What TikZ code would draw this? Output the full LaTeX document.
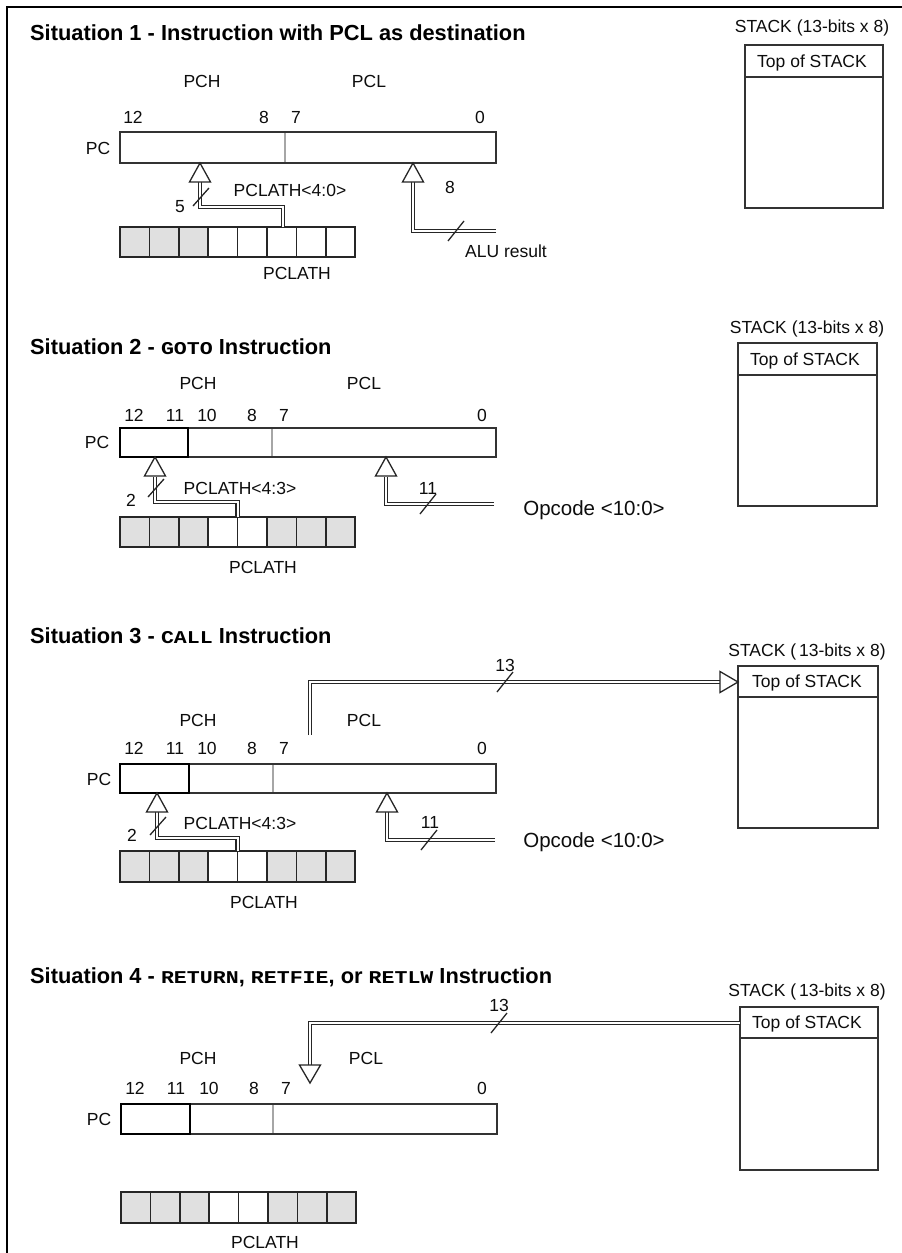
\documentclass[tikz,border=0pt]{standalone}
\usepackage{fontspec}
\usepackage{graphicx}
\setmainfont{Liberation Sans}
\newfontfamily\monofnt{Liberation Mono}
\begin{document}
\begin{tikzpicture}[x=1pt,y=-1pt,
  lbl/.style={font=\fontsize{17.5}{20}\selectfont, inner sep=0pt, text=black!95},
  ttl/.style={font=\fontsize{21.8}{26}\selectfont\bfseries, inner sep=0pt, anchor=west, text=black},
  opc/.style={font=\fontsize{20.5}{24}\selectfont, inner sep=0pt, text=black!95},
  regbox/.style={draw=black!80, line width=1.4pt},
  subbox/.style={draw=black, line width=1.9pt},
  divider/.style={draw=black!35, line width=1.2pt},
  cell/.style={draw=black!85, line width=1.5pt},
  graycell/.style={cell, fill=black!12},
  bus/.style={draw=black!85, double=white, double distance=2pt, line width=1.4pt},
  slash/.style={draw=black!85, line width=1.3pt},
  head/.style={draw=black!85, fill=white, line width=1.3pt, line join=miter},
  stackbox/.style={draw=black!80, line width=1.5pt}]
\useasboundingbox (0,0) rectangle (902,1253);
\fill[white] (0,0) rectangle (902,1253);
% frame
\draw[line width=2pt] (7,1253) -- (7,7) -- (902,7);
\newcommand\mtt[1]{\scalebox{1.2}[1]{\monofnt\fontsize{18}{20}\selectfont #1}}

% ================= Situation 1 =================
\node[ttl] (t1) at (30,33) {Situation 1 - Instruction with PCL as destination};
\node[lbl] (s1stk) at (812,28) {STACK (13-bits x 8)};
\draw[stackbox] (745,45) rectangle (883,208);
\draw[stackbox] (745,77) -- (883,77);
\node[lbl] (s1tos) at (812,63) {Top of STACK};
\node[lbl] (s1pch) at (202,81) {PCH};
\node[lbl] (s1pcl) at (369,81) {PCL};
\node[lbl] (s1b12) at (133,117) {12};
\node[lbl] (s1b8) at (264,117) {8};
\node[lbl] (s1b7) at (296,117) {7};
\node[lbl] (s1b0) at (480,117) {0};
\node[lbl] (s1pc) at (98,148) {PC};
\draw[regbox] (120,132) rectangle (496,163);
\draw[divider] (285,133) -- (285,162);
\foreach \i/\f in {0/graycell,1/graycell,2/graycell,3/cell,4/cell,5/cell,6/cell,7/cell}
  \draw[\f] ({120+29.4*\i},227) rectangle ++(29.4,30);
\node[lbl] (s1lath) at (297,273) {PCLATH};
\coordinate (s1a) at (283,227);
\coordinate (s1ab) at (200,182);
\draw[bus] (s1a) -- (283,207) -- (200,207) -- (s1ab);
\draw[head] (200,163) -- ++(-10.5,19) -- ++(21,0) -- cycle;
\draw[slash] (193,206) -- (209,188);
\node[lbl] (s1n5) at (180,207) {5};
\node[lbl] (s1l40) at (290,190) {PCLATH<4:0>};
\coordinate (s1b) at (496,231);
\coordinate (s1bb) at (413,182);
\draw[bus] (s1b) -- (413,231) -- (s1bb);
\draw[head] (413,163) -- ++(-10.5,19) -- ++(21,0) -- cycle;
\draw[slash] (448,241) -- (464,221);
\node[lbl] (s1n8) at (450,187) {8};
\node[lbl] (s1alu) at (506,251) {ALU result};

% ================= Situation 2 =================
\node[ttl] (t2) at (30,347) {Situation 2 - \mtt{GOTO} Instruction};
\node[lbl] (s2stk) at (807,329) {STACK (13-bits x 8)};
\draw[stackbox] (738,343) rectangle (877,506);
\draw[stackbox] (738,375) -- (877,375);
\node[lbl] (s2tos) at (805,361) {Top of STACK};
\node[lbl] (s2pch) at (198,383) {PCH};
\node[lbl] (s2pcl) at (364,383) {PCL};
\node[lbl] (s2b12) at (134,415) {12};
\node[lbl] (s2b11) at (175,415) {11};
\node[lbl] (s2b10) at (207,415) {10};
\node[lbl] (s2b8) at (252,415) {8};
\node[lbl] (s2b7) at (284,415) {7};
\node[lbl] (s2b0) at (482,415) {0};
\node[lbl] (s2pc) at (97,442) {PC};
\draw[regbox] (120,428) rectangle (496,457);
\draw[divider] (272,429) -- (272,456);
\draw[subbox] (120,428) rectangle (188,457);
\foreach \i/\f in {0/graycell,1/graycell,2/graycell,3/cell,4/cell,5/graycell,6/graycell,7/graycell}
  \draw[\f] ({120+29.4*\i},517) rectangle ++(29.4,30);
\node[lbl] (s2lath) at (263,567) {PCLATH};
\coordinate (s2a) at (237.6,517);
\coordinate (s2ab) at (155,477);
\draw[bus] (s2a) -- (237.6,502) -- (155,502) -- (s2ab);
\draw[head] (155,457) -- ++(-10.5,19) -- ++(21,0) -- cycle;
\draw[slash] (148,497) -- (164,479);
\node[lbl] (s2n2) at (131,500) {2};
\node[lbl] (s2l43) at (240,488) {PCLATH<4:3>};
\coordinate (s2b) at (494,504);
\coordinate (s2bb) at (386,477);
\draw[bus] (s2b) -- (386,504) -- (s2bb);
\draw[head] (386,457) -- ++(-10.5,19) -- ++(21,0) -- cycle;
\draw[slash] (420,514) -- (436,494);
\node[lbl] (s2n11) at (428,488) {11};
\node[opc] (s2opc) at (594,510) {Opcode <10:0>};

% ================= Situation 3 =================
\node[ttl] (t3) at (30,636) {Situation 3 - \mtt{CALL} Instruction};
\node[lbl] (s3stk) at (807,652) {STACK (\,13-bits x 8)};
\draw[stackbox] (738,666) rectangle (878,828);
\draw[stackbox] (738,697) -- (878,697);
\node[lbl] (s3tos) at (807,683) {Top of STACK};
\node[lbl] (s3pch) at (198,720) {PCH};
\node[lbl] (s3pcl) at (364,720) {PCL};
\node[lbl] (s3b12) at (134,748) {12};
\node[lbl] (s3b11) at (175,748) {11};
\node[lbl] (s3b10) at (207,748) {10};
\node[lbl] (s3b8) at (252,748) {8};
\node[lbl] (s3b7) at (284,748) {7};
\node[lbl] (s3b0) at (482,748) {0};
\node[lbl] (s3pc) at (99,779) {PC};
\draw[regbox] (120,764) rectangle (496,793);
\draw[divider] (273,765) -- (273,792);
\draw[subbox] (120,764) rectangle (189,793);
\foreach \i/\f in {0/graycell,1/graycell,2/graycell,3/cell,4/cell,5/graycell,6/graycell,7/graycell}
  \draw[\f] ({120+29.4*\i},851) rectangle ++(29.4,31);
\node[lbl] (s3lath) at (264,902) {PCLATH};
\coordinate (s3a) at (237.6,851);
\coordinate (s3ab) at (157,812);
\draw[bus] (s3a) -- (237.6,838) -- (157,838) -- (s3ab);
\draw[head] (157,793) -- ++(-10.5,19) -- ++(21,0) -- cycle;
\draw[slash] (150,835) -- (166,817);
\node[lbl] (s3n2) at (132,835) {2};
\node[lbl] (s3l43) at (240,823) {PCLATH<4:3>};
\coordinate (s3b) at (495,840);
\coordinate (s3bb) at (387,812);
\draw[bus] (s3b) -- (387,840) -- (s3bb);
\draw[head] (387,793) -- ++(-10.5,19) -- ++(21,0) -- cycle;
\draw[slash] (421,850) -- (437,830);
\node[lbl] (s3n11) at (430,822) {11};
\node[opc] (s3opc) at (594,842) {Opcode <10:0>};
\coordinate (s3c) at (310,735);
\coordinate (s3cb) at (720,682);
\draw[bus] (s3c) -- (310,682) -- (s3cb);
\draw[head] (738,682) -- ++(-18,-10.5) -- ++(0,21) -- cycle;
\draw[slash] (497,692) -- (513,672);
\node[lbl] (s3n13) at (505,665) {13};

% ================= Situation 4 =================
\node[ttl] (t4) at (30,977) {Situation 4 - \mtt{RETURN}, \mtt{RETFIE}, or \mtt{RETLW} Instruction};
\node[lbl] (s4stk) at (807,992) {STACK (\,13-bits x 8)};
\draw[stackbox] (740,1007) rectangle (878,1170);
\draw[stackbox] (740,1038) -- (878,1038);
\node[lbl] (s4tos) at (807,1024) {Top of STACK};
\coordinate (s4c) at (740,1023);
\coordinate (s4cb) at (310,1065);
\draw[bus] (s4c) -- (310,1023) -- (s4cb);
\draw[head] (310,1083) -- ++(-10.5,-18) -- ++(21,0) -- cycle;
\draw[slash] (491,1033) -- (507,1013);
\node[lbl] (s4n13) at (499,1005) {13};
\node[lbl] (s4pch) at (198,1058) {PCH};
\node[lbl] (s4pcl) at (366,1058) {PCL};
\node[lbl] (s4b12) at (135,1088) {12};
\node[lbl] (s4b11) at (176,1088) {11};
\node[lbl] (s4b10) at (209,1088) {10};
\node[lbl] (s4b8) at (254,1088) {8};
\node[lbl] (s4b7) at (286,1088) {7};
\node[lbl] (s4b0) at (482,1088) {0};
\node[lbl] (s4pc) at (99,1119) {PC};
\draw[regbox] (121,1104) rectangle (497,1134);
\draw[divider] (273,1105) -- (273,1133);
\draw[subbox] (121,1104) rectangle (190,1134);
\foreach \i/\f in {0/graycell,1/graycell,2/graycell,3/cell,4/cell,5/graycell,6/graycell,7/graycell}
  \draw[\f] ({121+29.4*\i},1192) rectangle ++(29.4,31);
\node[lbl] (s4lath) at (265,1242) {PCLATH};
\end{tikzpicture}
\end{document}
